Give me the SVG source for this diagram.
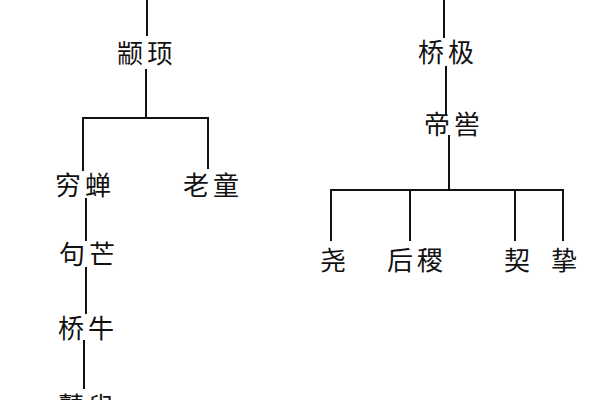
<svg xmlns="http://www.w3.org/2000/svg" width="600" height="400" viewBox="0 0 600 400">
<style>
.t{font-family:"Noto Sans CJK SC","Noto Sans CJK TC",sans-serif;font-size:26px;fill:#111;text-anchor:middle;letter-spacing:4px}
.c line{stroke:#111;stroke-width:2;stroke-linecap:square}
</style>
<rect width="600" height="400" fill="#fff"/>
<g class="c" id="connectors">
<line x1="147" y1="0" x2="147" y2="35"/>
<line x1="146" y1="70" x2="146" y2="118"/>
<line x1="83" y1="118" x2="208" y2="118"/>
<line x1="83" y1="118" x2="83" y2="170"/>
<line x1="208" y1="118" x2="208" y2="168"/>
<line x1="86" y1="199" x2="86" y2="240"/>
<line x1="86" y1="268" x2="86" y2="313"/>
<line x1="84" y1="341" x2="84" y2="388"/>
<line x1="444" y1="0" x2="444" y2="37"/>
<line x1="446" y1="67" x2="446" y2="114"/>
<line x1="449" y1="136" x2="449" y2="190"/>
<line x1="331" y1="190" x2="563" y2="190"/>
<line x1="331" y1="190" x2="331" y2="240"/>
<line x1="410" y1="190" x2="410" y2="240"/>
<line x1="515" y1="190" x2="515" y2="240"/>
<line x1="563" y1="190" x2="563" y2="240"/>
</g>
<g id="zhuanxu"><text class="t" x="147" y="63">颛顼</text></g>
<g id="qiongchan"><text class="t" x="85" y="195">穷蝉</text></g>
<g id="laotong"><text class="t" x="213" y="195">老童</text></g>
<g id="jumang"><text class="t" x="89" y="264">句芒</text></g>
<g id="qiaoniu"><text class="t" x="88" y="338">桥牛</text></g>
<g id="gusou"><text class="t" x="88" y="416">瞽叟</text></g>
<g id="qiaoji"><text class="t" x="448" y="62">桥极</text></g>
<g id="diku"><text class="t" x="454" y="134">帝喾</text></g>
<g id="yao"><text class="t" x="335" y="270">尧</text></g>
<g id="houji"><text class="t" x="417" y="270">后稷</text></g>
<g id="qi"><text class="t" x="519" y="270">契</text></g>
<g id="zhi"><text class="t" x="566" y="270">挚</text></g>
</svg>
